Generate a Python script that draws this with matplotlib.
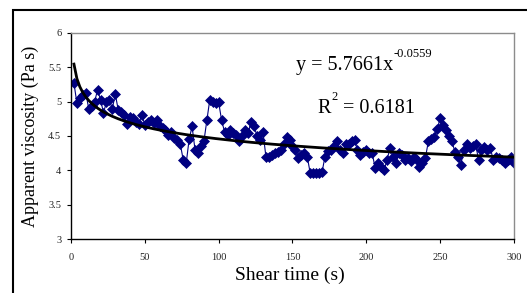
import numpy as np
import matplotlib
matplotlib.use('Agg')
import matplotlib.pyplot as plt
from matplotlib.patches import Rectangle

plt.rcParams['font.family'] = ['Liberation Serif', 'DejaVu Serif']

# shear time (s), sampled every 2 s
shear_time = list(range(2, 301, 2))

# apparent viscosity (Pa s)
viscosity = [
    5.27, 4.98, 5.05, 5.10, 5.13, 4.90, 4.93, 5.00, 5.17, 5.03,
    4.84, 4.99, 5.02, 4.90, 5.11, 4.88, 4.85, 4.81, 4.68, 4.78,
    4.76, 4.71, 4.68, 4.81, 4.66, 4.70, 4.73, 4.69, 4.73, 4.64,
    4.62, 4.59, 4.51, 4.56, 4.47, 4.44, 4.39, 4.15, 4.10, 4.45,
    4.64, 4.30, 4.25, 4.35, 4.42, 4.73, 5.03, 5.00, 4.98, 4.99,
    4.73, 4.56, 4.52, 4.59, 4.55, 4.51, 4.42, 4.50, 4.59, 4.54,
    4.71, 4.64, 4.50, 4.44, 4.56, 4.20, 4.20, 4.22, 4.25, 4.27,
    4.30, 4.38, 4.49, 4.44, 4.35, 4.30, 4.18, 4.22, 4.25, 4.20,
    3.96, 3.96, 3.96, 3.96, 3.97, 4.20, 4.28, 4.30, 4.36, 4.42,
    4.30, 4.25, 4.39, 4.39, 4.42, 4.44, 4.30, 4.22, 4.27, 4.30,
    4.25, 4.25, 4.03, 4.10, 4.05, 4.00, 4.15, 4.32, 4.20, 4.10,
    4.25, 4.22, 4.15, 4.18, 4.13, 4.20, 4.15, 4.05, 4.10, 4.18,
    4.42, 4.45, 4.49, 4.60, 4.76, 4.66, 4.59, 4.50, 4.42, 4.27,
    4.20, 4.08, 4.30, 4.39, 4.32, 4.35, 4.39, 4.15, 4.30, 4.34,
    4.30, 4.32, 4.15, 4.20, 4.18, 4.15, 4.10, 4.15, 4.20, 4.10,
]

# power-law trendline as printed on the chart
fit_a = 5.7661
fit_b = -0.0559
fit_r2 = 0.6181

fig = plt.figure(figsize=(5.27, 2.93), dpi=100)
ax = fig.add_axes([0.1347, 0.1843, 0.8406, 0.7031])

ax.plot(shear_time, viscosity, color='#000080', lw=0.8, marker='D',
        ms=5.0, mec='#000080', mfc='#000080', mew=0.5, zorder=2)

tt = np.array(shear_time, dtype=float)
ax.plot(tt, fit_a * tt ** fit_b, color='black', lw=2.0, zorder=3)

ax.set_xlim(0, 300)
ax.set_ylim(3, 6)
ax.set_xticks(range(0, 301, 50))
ax.set_yticks([3, 3.5, 4, 4.5, 5, 5.5, 6])
ax.set_yticklabels(['3', '3.5', '4', '4.5', '5', '5.5', '6'])
ax.tick_params(direction='out', length=3, width=0.8, labelsize=7.5,
               labelcolor='#222222', pad=4)
ax.tick_params(axis='x', pad=7)

for side in ('top', 'right'):
    ax.spines[side].set_color('#8c8c8c')
    ax.spines[side].set_linewidth(1.0)
for side in ('left', 'bottom'):
    ax.spines[side].set_color('black')
    ax.spines[side].set_linewidth(1.0)

fig.text(290 / 527, 1 - 275 / 293, 'Shear time (s)', fontsize=14,
         ha='center', va='center')
fig.text(30 / 527, 1 - 136 / 293, 'Apparent viscosity (Pa s)', fontsize=13,
         ha='center', va='center', rotation=90)

# trendline equation, exponents as small raised text
eq = fig.text(296 / 527, 1 - 70 / 293, 'y = %.4fx' % fit_a, fontsize=14.5,
              ha='left', va='baseline')
r2 = fig.text(317 / 527, 1 - 113 / 293, 'R', fontsize=14.5,
              ha='left', va='baseline')
fig.canvas.draw()
renderer = fig.canvas.get_renderer()
inv = fig.transFigure.inverted()
eq_box = inv.transform(eq.get_window_extent(renderer))
fig.text(eq_box[1][0] + 0.001, 1 - 70 / 293 + 0.045, '%.4f' % fit_b,
         fontsize=9, ha='left', va='baseline')
r2_box = inv.transform(r2.get_window_extent(renderer))
sup = fig.text(r2_box[1][0] + 0.001, 1 - 113 / 293 + 0.045, '2',
               fontsize=9, ha='left', va='baseline')
fig.canvas.draw()
sup_box = inv.transform(sup.get_window_extent(renderer))
fig.text(sup_box[1][0] + 0.002, 1 - 113 / 293, ' = %.4f' % fit_r2,
         fontsize=14.5, ha='left', va='baseline')

# outer chart frame (right and bottom edges fall outside the picture)
fig.patches.append(Rectangle((13 / 527, -0.2), 1.2, 0.2 + 1 - 10 / 293,
                             transform=fig.transFigure, fill=False,
                             edgecolor='black', lw=1.5))

fig.savefig('out.png', dpi=100)
